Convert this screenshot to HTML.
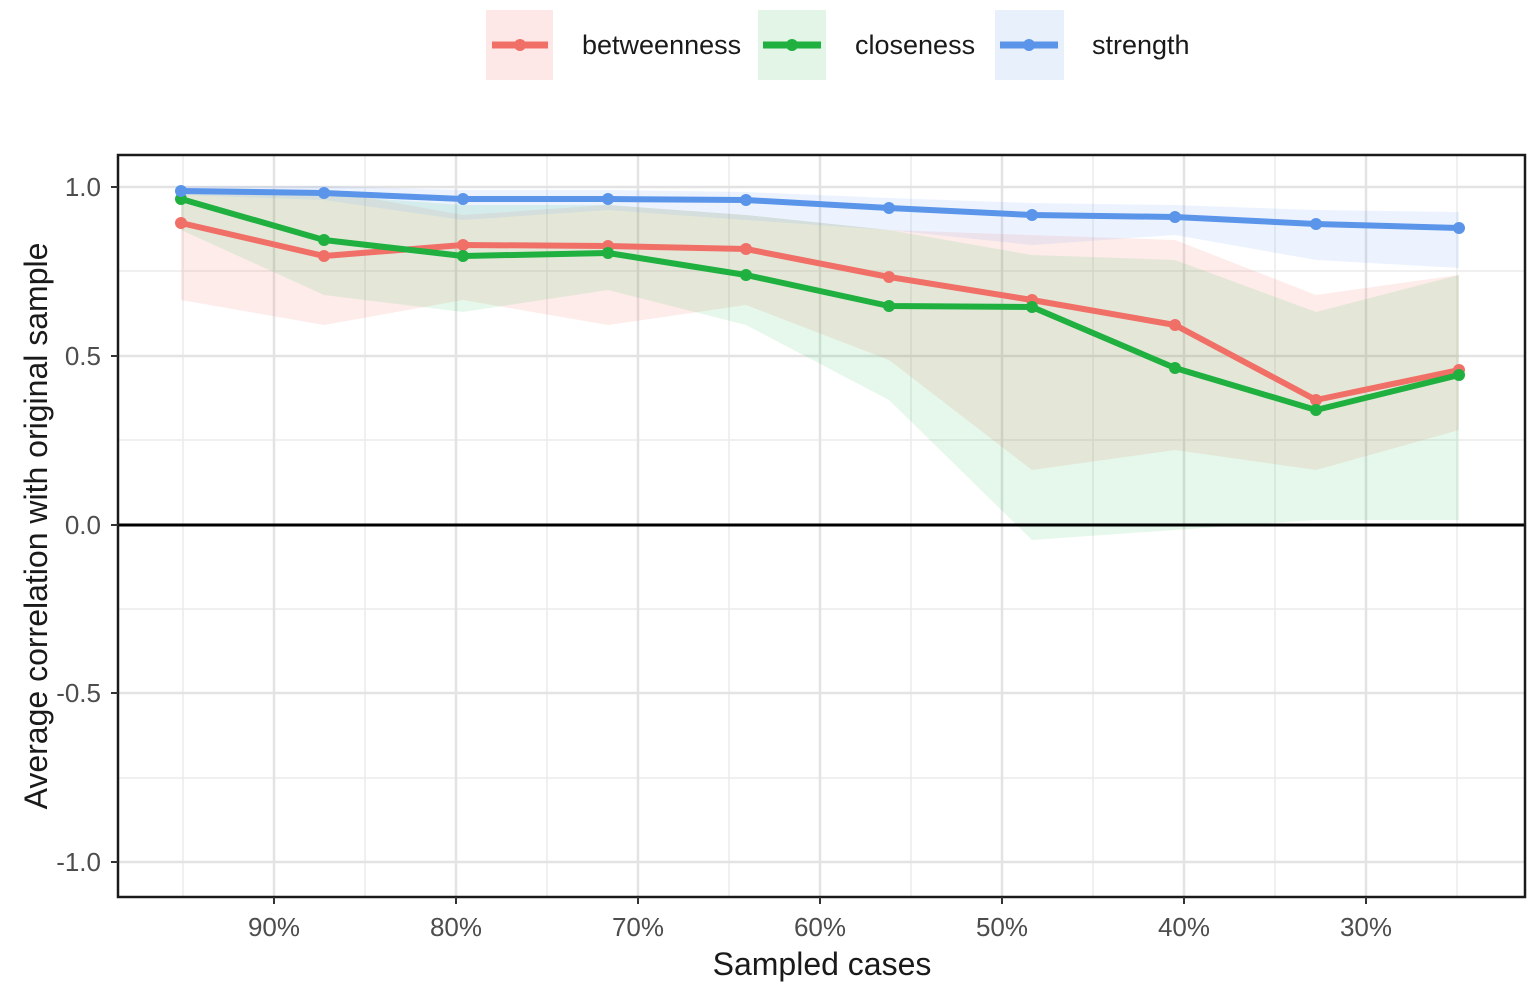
<!DOCTYPE html>
<html><head><style>body{margin:0;background:#fff}svg{display:block;font-family:"Liberation Sans",sans-serif}</style></head>
<body>
<svg width="1535" height="990" viewBox="0 0 1535 990">
<rect width="1535" height="990" fill="#fff"/>
<rect x="486" y="10" width="67" height="70" fill="#fde8e7"/>
<rect x="758" y="10" width="68" height="70" fill="#e2f5e6"/>
<rect x="995" y="10" width="69" height="70" fill="#e8f0fc"/>
<line x1="492" y1="45" x2="548" y2="45" stroke="#f07068" stroke-width="7"/><circle cx="520" cy="45" r="6" fill="#f07068"/>
<line x1="763" y1="45" x2="821" y2="45" stroke="#1fb040" stroke-width="7"/><circle cx="792" cy="45" r="6" fill="#1fb040"/>
<line x1="1000" y1="45" x2="1058" y2="45" stroke="#5b95ea" stroke-width="7"/><circle cx="1029" cy="45" r="6" fill="#5b95ea"/>
<g font-size="27" fill="#1a1a1a"><text x="582" y="54">betweenness</text><text x="855" y="54">closeness</text><text x="1092" y="54">strength</text></g>
<g stroke="#ebebeb" stroke-width="1.5">
<line x1="118" x2="1525" y1="271" y2="271"/><line x1="118" x2="1525" y1="440" y2="440"/><line x1="118" x2="1525" y1="609" y2="609"/><line x1="118" x2="1525" y1="778" y2="778"/>
<line y1="155" y2="897" x1="183" x2="183"/><line y1="155" y2="897" x1="365" x2="365"/><line y1="155" y2="897" x1="547" x2="547"/><line y1="155" y2="897" x1="729" x2="729"/><line y1="155" y2="897" x1="911" x2="911"/><line y1="155" y2="897" x1="1093" x2="1093"/><line y1="155" y2="897" x1="1275" x2="1275"/><line y1="155" y2="897" x1="1457" x2="1457"/>
</g>
<g stroke="#e3e3e3" stroke-width="2.5">
<line x1="118" x2="1525" y1="187" y2="187"/><line x1="118" x2="1525" y1="356" y2="356"/><line x1="118" x2="1525" y1="693" y2="693"/><line x1="118" x2="1525" y1="862" y2="862"/>
<line y1="155" y2="897" x1="274" x2="274"/><line y1="155" y2="897" x1="456" x2="456"/><line y1="155" y2="897" x1="638" x2="638"/><line y1="155" y2="897" x1="820" x2="820"/><line y1="155" y2="897" x1="1002" x2="1002"/><line y1="155" y2="897" x1="1184" x2="1184"/><line y1="155" y2="897" x1="1366" x2="1366"/>
</g>
<polygon fill="#f8766d" fill-opacity="0.14" points="181,188 324,190 463,215 608,205 746,215 889,230 1032,235 1175,240 1316,295 1459,275 1459,430 1316,470 1175,450 1032,470 889,360 746,305 608,325 463,300 324,325 181,300"/>
<polygon fill="#00ba38" fill-opacity="0.1" points="181,190 324,195 463,205 608,205 746,215 889,230 1032,255 1175,260 1316,312 1459,275 1459,520 1316,520 1175,530 1032,540 889,400 746,325 608,290 463,312 324,295 181,230"/>
<polygon fill="#619cff" fill-opacity="0.12" points="181,186 324,186 463,190 608,190 746,192 889,198 1032,203 1175,205 1316,210 1459,212 1459,268 1316,260 1175,235 1032,245 889,230 746,220 608,210 463,220 324,200 181,195"/>
<line x1="118" x2="1525" y1="525" y2="525" stroke="#000" stroke-width="3"/>
<g fill="none" stroke-width="6" stroke-linejoin="round">
<polyline stroke="#f07068" points="181,223 324,256 463,245 608,246 746,249 889,277 1032,300 1175,325 1316,400 1459,370"/>
<polyline stroke="#1fb040" points="181,199 324,240 463,256 608,253 746,275 889,306 1032,307 1175,368 1316,410 1459,375"/>
<polyline stroke="#5b95ea" points="181,191 324,193 463,199 608,199 746,200 889,208 1032,215 1175,217 1316,224 1459,228"/>
</g>
<g fill="#f07068"><circle cx="181" cy="223" r="6"/><circle cx="324" cy="256" r="6"/><circle cx="463" cy="245" r="6"/><circle cx="608" cy="246" r="6"/><circle cx="746" cy="249" r="6"/><circle cx="889" cy="277" r="6"/><circle cx="1032" cy="300" r="6"/><circle cx="1175" cy="325" r="6"/><circle cx="1316" cy="400" r="6"/><circle cx="1459" cy="370" r="6"/></g>
<g fill="#1fb040"><circle cx="181" cy="199" r="6"/><circle cx="324" cy="240" r="6"/><circle cx="463" cy="256" r="6"/><circle cx="608" cy="253" r="6"/><circle cx="746" cy="275" r="6"/><circle cx="889" cy="306" r="6"/><circle cx="1032" cy="307" r="6"/><circle cx="1175" cy="368" r="6"/><circle cx="1316" cy="410" r="6"/><circle cx="1459" cy="375" r="6"/></g>
<g fill="#5b95ea"><circle cx="181" cy="191" r="6"/><circle cx="324" cy="193" r="6"/><circle cx="463" cy="199" r="6"/><circle cx="608" cy="199" r="6"/><circle cx="746" cy="200" r="6"/><circle cx="889" cy="208" r="6"/><circle cx="1032" cy="215" r="6"/><circle cx="1175" cy="217" r="6"/><circle cx="1316" cy="224" r="6"/><circle cx="1459" cy="228" r="6"/></g>
<rect x="118" y="155" width="1407" height="742" fill="none" stroke="#1a1a1a" stroke-width="2.5"/>
<g stroke="#333" stroke-width="2">
<line x1="111" x2="118" y1="187" y2="187"/><line x1="111" x2="118" y1="356" y2="356"/><line x1="111" x2="118" y1="525" y2="525"/><line x1="111" x2="118" y1="693" y2="693"/><line x1="111" x2="118" y1="862" y2="862"/>
<line y1="897" y2="904" x1="274" x2="274"/><line y1="897" y2="904" x1="456" x2="456"/><line y1="897" y2="904" x1="638" x2="638"/><line y1="897" y2="904" x1="820" x2="820"/><line y1="897" y2="904" x1="1002" x2="1002"/><line y1="897" y2="904" x1="1184" x2="1184"/><line y1="897" y2="904" x1="1366" x2="1366"/>
</g>
<g font-size="26" fill="#4d4d4d" text-anchor="end">
<text x="101" y="196">1.0</text><text x="101" y="365">0.5</text><text x="101" y="534">0.0</text><text x="101" y="702">-0.5</text><text x="101" y="871">-1.0</text>
</g>
<g font-size="26" fill="#4d4d4d" text-anchor="middle">
<text x="274" y="936">90%</text><text x="456" y="936">80%</text><text x="638" y="936">70%</text><text x="820" y="936">60%</text><text x="1002" y="936">50%</text><text x="1184" y="936">40%</text><text x="1366" y="936">30%</text>
</g>
<text x="822" y="975" font-size="32" text-anchor="middle" fill="#1a1a1a">Sampled cases</text>
<text transform="translate(47,526) rotate(-90)" font-size="32" text-anchor="middle" fill="#1a1a1a">Average correlation with original sample</text>
</svg>
</body></html>
